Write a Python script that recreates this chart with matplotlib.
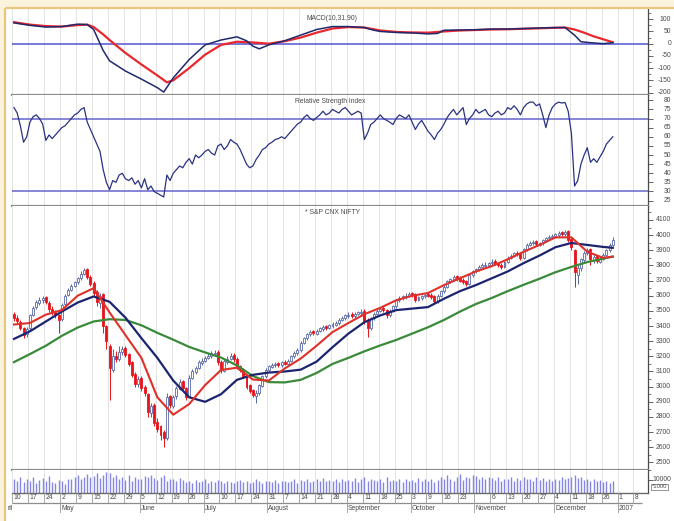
import numpy as np
import matplotlib
matplotlib.use("Agg")
import matplotlib.pyplot as plt
from matplotlib.patches import Rectangle
import matplotlib.transforms as mtrans

plt.rcParams['font.family'] = ['Liberation Sans', 'DejaVu Sans']

# ---------------- data (trading-day index; idx 5 = Mon 10 Apr 2006) ----------------
opens = [
3480,3455,3425,3385,3345, 3385,3475,3525,3555,3570, 3590,3555,3515,3495,3470,
3445,3545,3605,3640,3665, 3690,3715,3745,3775,3725, 3685,3625,3555,3610,3400,
3270,3110,3205,3180,3230, 3255,3215,3160,3085,3015, 3060,3000,2950,2825,2880,
2770,2740,2700,2660,2935, 2875,2935,2985,3035,2990, 2935,3060,3095,3125,3155,
3170,3190,3200,3215,3230, 3165,3105,3165,3185,3210, 3185,3135,3115,3075,3010,
2975,2940,2955,3005,3070, 3110,3130,3140,3155,3140, 3165,3150,3170,3200,3220,
3240,3290,3320,3345,3365, 3350,3370,3380,3400,3390, 3400,3410,3420,3440,3450,
3465,3480,3465,3480,3485, 3500,3440,3385,3450,3480, 3500,3520,3505,3470,3500,
3530,3570,3585,3590,3600, 3615,3610,3575,3585,3595, 3610,3605,3595,3565,3600,
3630,3660,3695,3710,3730, 3720,3705,3695,3680,3735, 3760,3775,3790,3795,3805,
3815,3830,3815,3805,3790, 3825,3850,3865,3885,3880, 3850,3905,3935,3945,3960,
3935,3945,3965,3980,3985, 3995,4000,4020,4005,4025, 3975,3900,3740,3780,3835,
3880,3905,3835,3860,3825, 3845,3870,3900,3935]
closes = [
3450,3430,3390,3340,3380, 3470,3520,3560,3570,3585, 3560,3510,3490,3470,3440,
3540,3600,3640,3665,3690, 3715,3745,3770,3725,3680, 3620,3560,3600,3400,3300,
3120,3200,3185,3230,3250, 3210,3150,3080,3020,3050, 2990,2960,2830,2870,2760,
2720,2680,2660,2930,2880, 2930,2990,3030,2990,2930, 3060,3100,3120,3160,3170,
3190,3205,3220,3225,3160, 3110,3170,3185,3205,3180, 3130,3110,3070,3000,2970,
2945,2960,3010,3070,3110, 3135,3140,3150,3145,3160, 3150,3170,3200,3225,3240,
3290,3320,3345,3360,3355, 3370,3385,3395,3390,3405, 3415,3420,3440,3455,3470,
3475,3465,3480,3490,3495, 3430,3390,3450,3480,3500, 3515,3505,3470,3500,3530,
3570,3585,3595,3600,3610, 3605,3575,3590,3595,3605, 3600,3590,3565,3600,3630,
3660,3695,3710,3725,3715, 3700,3690,3680,3735,3760, 3775,3790,3800,3805,3815,
3825,3810,3800,3790,3825, 3850,3865,3880,3875,3850, 3905,3935,3950,3955,3940,
3945,3965,3980,3990,3995, 4005,4015,4010,4020,3970, 3920,3755,3780,3840,3880,
3900,3840,3855,3830,3845, 3870,3900,3935,3966]
highs = [
3495,3470,3440,3395,3395, 3480,3535,3575,3590,3600, 3600,3565,3530,3505,3480,
3550,3610,3650,3680,3700, 3725,3760,3785,3785,3735, 3695,3635,3620,3620,3410,
3280,3250,3235,3265,3270, 3265,3225,3170,3095,3070, 3070,3010,2960,2890,2890,
2790,2750,2715,2960,2945, 2945,3005,3050,3045,3000, 3075,3115,3135,3175,3190,
3205,3220,3235,3240,3240, 3175,3185,3200,3220,3220, 3195,3145,3125,3085,3020,
2985,2975,3020,3080,3120, 3145,3155,3165,3165,3170, 3175,3180,3210,3235,3255,
3300,3330,3355,3375,3375, 3380,3395,3405,3410,3415, 3425,3435,3450,3465,3480,
3490,3490,3490,3500,3510, 3510,3450,3460,3490,3510, 3525,3530,3515,3510,3540,
3580,3595,3605,3615,3625, 3625,3620,3600,3605,3615, 3620,3615,3605,3610,3640,
3670,3705,3720,3740,3740, 3730,3715,3705,3745,3770, 3785,3800,3815,3820,3825,
3840,3840,3825,3815,3835, 3860,3875,3890,3895,3890, 3915,3945,3960,3965,3970,
3955,3975,3990,4000,4005, 4015,4030,4030,4035,4035, 3985,3910,3800,3850,3895,
3915,3915,3870,3870,3860, 3880,3910,3945,3985]
lows = [
3435,3415,3375,3320,3330, 3375,3465,3515,3540,3555, 3545,3495,3475,3450,3355,
3430,3535,3595,3630,3655, 3680,3705,3735,3710,3665, 3600,3530,3520,3355,3250,
2915,3095,3160,3170,3210, 3195,3135,3065,3000,3000, 2970,2940,2800,2800,2740,
2700,2650,2605,2650,2860, 2860,2920,2975,2975,2910, 2925,3050,3085,3115,3145,
3160,3180,3190,3200,3145, 3090,3095,3150,3175,3165, 3115,3095,3055,2985,2955,
2930,2895,2945,2995,3060, 3100,3120,3130,3130,3130, 3140,3140,3160,3190,3210,
3230,3280,3310,3335,3340, 3340,3360,3370,3375,3380, 3390,3400,3410,3430,3440,
3455,3450,3455,3470,3475, 3415,3330,3375,3440,3470, 3490,3490,3455,3460,3490,
3520,3560,3575,3580,3590, 3590,3560,3565,3575,3585, 3590,3580,3550,3555,3590,
3620,3650,3685,3700,3700, 3690,3675,3665,3670,3725, 3750,3765,3780,3785,3795,
3805,3800,3790,3775,3780, 3815,3840,3855,3865,3835, 3845,3895,3925,3935,3925,
3925,3935,3955,3970,3975, 3985,3990,3995,3995,3955, 3900,3660,3680,3765,3825,
3870,3800,3815,3815,3815, 3835,3860,3890,3925]
volumes = [
11000,9500,12000,8500,10500, 9000,12500,8000,10000,11500, 9500,13000,8500,7500,10000,
9000,7000,11000,10500,12000, 13500,11000,12500,14500,12000, 13000,15000,11500,14000,16000,
15500,12000,13500,11000,12500, 10000,13500,9500,12000,11000, 10500,13000,12500,14000,11500,
10000,12000,13500,9000,11000, 10500,9000,11500,10000,8500, 9500,8000,10000,8500,9000,
10500,8000,9500,8500,10000, 9000,8000,9500,8500,7500, 9000,10000,8500,9500,8000,
8500,10500,9000,8000,9500, 9000,8500,10000,8000,9000, 9500,8500,9000,10500,8000,
10000,9000,11000,8500,9500, 10500,9000,11500,9000,10000, 9000,10500,8500,11000,9500,
10000,9000,11500,8500,10500, 12000,9500,11000,10000,9000, 10500,8500,12500,9500,10000,
9000,11000,8500,10500,9500, 10000,8500,11500,9000,10500, 9500,11000,8500,10000,12000,
10500,13500,11000,9500,12000, 14500,10000,12500,11500,14000, 13000,11000,12500,10500,12000,
11500,10000,12000,9500,11000, 10500,12000,9000,11500,10000, 12000,10500,11000,9500,12500,
10000,11500,9000,10500,9500, 11000,10000,12000,10500,11500, 12500,14000,11500,12500,10000,
11000,9500,10500,9000,10000, 8500,9500,8000,9000]
rsi = [
76,73,66,57,60, 68,71,72,70,67, 58,61,59,61,63, 65,66,68,70,72, 73,75,76,68,64,
60,56,52,42,35, 31,36,35,39,40, 37,36,37.5,34,36, 32,37,31,33,30, 29,28,27,39,36,
40,42,44,43,46, 48,45,50,48.5,50, 52,53,51,50,55, 56,53,55,58.5,57, 56,53,49,45,43,
44,47.5,50,53,54, 56,57,58.5,59,60, 59,61,63,65,67, 68,70.5,72,70,69, 70.5,72,74,72,73,
75,74,73,75,76, 74,72,73,74,73, 58.5,62,66.7,68,70, 72,70,69,68,66.7, 70,72,71,70,72,
68,64,67,69,66, 63,61,58.5,62,64, 67,70.5,73,75,72, 74,76,66.7,70,72, 75,73,74,75,72,
71,73,74,72,73, 76,75,77,75,72, 76,78,79,79,77, 78,72,65,72,76, 78,79,78.5,78.8,74,
62,33,36,45,50, 54,46,48,46,49, 52,56,58,60]

ma_idx = [5,10,15,20,25,30,35,40,45,50,55,60,65,70,75,80,85,90,95,100,105,110,115,120,
          125,130,135,140,145,150,155,160,165,170,175,180,185,190,193]
ma_red = [3410,3420,3475,3505,3600,3650,3490,3340,3190,2930,2815,2885,3010,3110,3125,3047,
          3040,3120,3185,3270,3360,3420,3478,3520,3570,3600,3618,3670,3715,3760,3795,3840,
          3890,3935,3985,3985,3890,3850,3858]
ma_blue = [3315,3365,3430,3495,3555,3595,3560,3455,3320,3190,3040,2930,2900,2950,3045,3078,
           3093,3100,3112,3165,3260,3350,3425,3470,3505,3515,3525,3580,3630,3670,3715,3760,
           3815,3865,3920,3948,3935,3922,3916]
ma_green = [3162,3215,3270,3335,3390,3430,3445,3440,3405,3355,3310,3262,3226,3192,3140,3070,
            3030,3028,3045,3090,3150,3190,3233,3272,3308,3350,3392,3440,3495,3545,3585,3630,
            3672,3712,3755,3790,3822,3845,3858]

macd_idx = [5,10,15,20,25,28,30,33,35,40,45,50,52,55,60,65,70,75,78,80,82,85,90,95,100,105,
            110,115,118,120,125,130,135,138,140,145,150,155,160,165,170,175,178,181,183,186,190,193]
macd_line = [85,75,68,70,80,78,58,-28,-70,-112,-145,-180,-198,-140,-65,-5,15,28,12,-10,-21,-5,
             12,35,58,70,70,66,55,50,46,44,40,42,55,56,57,60,60,62,64,66,66,35,8,4,0,4]
signal_idx = [5,10,15,20,25,28,30,33,35,40,45,50,53,55,60,65,70,75,80,85,90,95,100,105,110,115,
              120,125,130,135,140,145,150,155,160,165,170,175,178,181,184,187,190,193]
signal_line = [88,78,72,70,76,78,68,38,15,-38,-85,-130,-158,-150,-100,-45,-5,8,5,0,10,25,45,62,
               68,66,54,48,46,45,50,54,56,58,59,61,63,65,66,58,45,30,18,6]

week_labels = ["10","17","24","2","9","15","22","29","5","12","19","26","3","10","17","24","31",
               "7","14","21","28","4","11","18","25","3","9","16","23","","6","13","20","27",
               "4","11","18","26","1","8"]
month_names = ["ril","May","June","July","August","September","October","November","December","2007"]
month_idx = [3,20,45,65,85,110,130,150,175,195]

macd_ticks = [100,50,0,-50,-100,-150,-200]
rsi_ticks = [80,75,70,65,60,55,50,45,40,35,30,25]
price_ticks = list(range(2500, 4101, 100))

# ---------------- layout helpers ----------------
W, H = 674, 521
fig = plt.figure(figsize=(W/100, H/100), dpi=100)
fig.patch.set_facecolor('white')

def add_ax(x0, y0, x1, y1):
    return fig.add_axes([x0/W, 1 - y1/H, (x1-x0)/W, (y1-y0)/H])

PX = 3.185
def idx_at(x):
    return 5 + (x - 14) / PX

XL = (idx_at(12), idx_at(648))
LAB_X = (671 - 12) / (648 - 12)
TXT = '#4a4a4a'
FS = 4.9

def style(ax, ylim, ticks, minor=None, fmt=lambda v: f"{v:g}"):
    ax.set_xlim(*XL)
    ax.set_ylim(*ylim)
    for s in ['left', 'top']:
        ax.spines[s].set_visible(False)
    ax.spines['right'].set_color('#4a4a4a')
    ax.spines['right'].set_linewidth(0.9)
    ax.spines['bottom'].set_color('#8c8c8c')
    ax.spines['bottom'].set_linewidth(1.6)
    ax.set_xticks([])
    ax.yaxis.tick_right()
    ax.set_yticks(ticks)
    ax.set_yticklabels([])
    if minor is not None:
        ax.set_yticks(minor, minor=True)
    ax.tick_params(axis='y', which='major', length=3.5, width=0.6, color='#4a4a4a')
    ax.tick_params(axis='y', which='minor', length=2, width=0.5, color='#4a4a4a')
    tr = mtrans.blended_transform_factory(ax.transAxes, ax.transData)
    for v in ticks:
        ax.text(LAB_X, v, fmt(v), transform=tr, ha='right', va='center',
                fontsize=FS, color=TXT, clip_on=False)
    for k in range(1, 41):
        ax.axvline(5*k - 0.5, color='#dedede', lw=0.6, zorder=0)

# ---------------- MACD ----------------
ax1 = add_ax(12, 8, 648, 95)
style(ax1, (-210, 146), macd_ticks, minor=list(range(-200, 126, 25)))
ax1.axhline(0, color='#6c6cd8', lw=1.3, zorder=1)
ax1.plot(signal_idx, signal_line, color='#e8282e', lw=1.6, zorder=3)
ax1.plot(macd_idx, macd_line, color='#1f2a6e', lw=1.1, zorder=4)
fig.text(332/W, 1 - 19/H, "MACD(10,31,90)", fontsize=FS, color=TXT, ha='center', va='center')

# ---------------- RSI ----------------
ax2 = add_ax(12, 95, 648, 206)
style(ax2, (22.05, 82.9), rsi_ticks)
ax2.axhline(70, color='#6464cc', lw=1.1, zorder=1)
ax2.axhline(30, color='#6464cc', lw=1.1, zorder=1)
d = np.arange(5, 5 + len(rsi))
ax2.plot(d, rsi, color='#2a3282', lw=0.9, zorder=3)
fig.text(295/W, 1 - 101.5/H, "Relative Strength Index", fontsize=FS, color=TXT, ha='left', va='center')

# ---------------- Price ----------------
ax3 = add_ax(12, 206, 648, 470)
style(ax3, (2454, 4192), price_ticks, minor=list(range(2450, 4200, 50)), fmt=lambda v: f"{v:d}")
o = np.array(opens); c = np.array(closes); h = np.array(highs); l = np.array(lows)
d = np.arange(5, 5 + len(c))
up = c >= o
UPC, DNC = '#5a68a8', '#e8141c'
ax3.vlines(d[up], l[up], h[up], colors=UPC, lw=0.7, zorder=2)
ax3.vlines(d[~up], l[~up], h[~up], colors=DNC, lw=0.7, zorder=2)
ax3.bar(d[up], c[up] - o[up], bottom=o[up], width=0.62, facecolor='white',
        edgecolor=UPC, lw=0.6, zorder=3)
ax3.bar(d[~up], o[~up] - c[~up], bottom=c[~up], width=0.62, facecolor=DNC,
        edgecolor=DNC, lw=0.6, zorder=3)
ax3.plot(ma_idx, ma_green, color='#3a8a3a', lw=1.6, zorder=4)
ax3.plot(ma_idx, ma_blue, color='#1c2470', lw=1.6, zorder=4)
ax3.plot(ma_idx, ma_red, color='#e0302a', lw=1.5, zorder=5)
fig.text(305/W, 1 - 213/H, "* S&P CNX NIFTY", fontsize=FS, color=TXT, ha='left', va='center')

# ---------------- Volume ----------------
ax4 = add_ax(12, 470, 648, 493)
style(ax4, (0, 17692), [10000])
ax4.spines['bottom'].set_color('#6a6a6a')
ax4.spines['bottom'].set_linewidth(1.0)
d = np.arange(5, 5 + len(volumes))
ax4.vlines(d, 0, volumes, colors='#8585e6', lw=1.0, zorder=2)
fig.text(652/W, 1 - 487/H, "*1000", fontsize=4.2, color=TXT, ha='left', va='center',
         bbox=dict(boxstyle='square,pad=0.15', fc='white', ec='#6a6a6a', lw=0.5))

# ---------------- date axis ----------------
ax5 = add_ax(4, 493, 648, 513)
ax5.set_xlim(idx_at(4), idx_at(648))
ax5.set_ylim(0, 1)
ax5.axis('off')
ax5.hlines(0.5, idx_at(12), idx_at(642), color='#8c8c8c', lw=0.9)
for k in range(1, 41):
    ax5.vlines(5*k - 0.5, 0.5, 1.0, color='#9a9a9a', lw=0.6)
    ax5.text(5*k - 0.1, 0.76, week_labels[k-1], fontsize=FS, color=TXT, ha='left',
             va='center', clip_on=True)
for m, name in zip(month_idx, month_names):
    if m > 5:
        ax5.vlines(m - 0.5, 0.0, 0.5, color='#9a9a9a', lw=0.6)
    ax5.text(m - 0.1, 0.24, name, fontsize=FS, color=TXT, ha='left', va='center', clip_on=True)

# ---------------- frame ----------------
axb = fig.add_axes([0, 0, 1, 1], zorder=10)
axb.set_xlim(0, W); axb.set_ylim(H, 0)
axb.axis('off')
axb.patch.set_alpha(0)
axb.add_patch(Rectangle((0, 0), W, 7, facecolor='#fbf3dc', edgecolor='none'))
axb.add_patch(Rectangle((0, 0), 4, H, facecolor='#fbf3dc', edgecolor='none'))
axb.plot([4.5, W], [7.5, 7.5], color='#e8c880', lw=1.6, solid_capstyle='butt')
axb.plot([4.5, 4.5], [7.5, H], color='#e8c880', lw=1.6, solid_capstyle='butt')

fig.savefig("out.png", dpi=100, facecolor='white')
